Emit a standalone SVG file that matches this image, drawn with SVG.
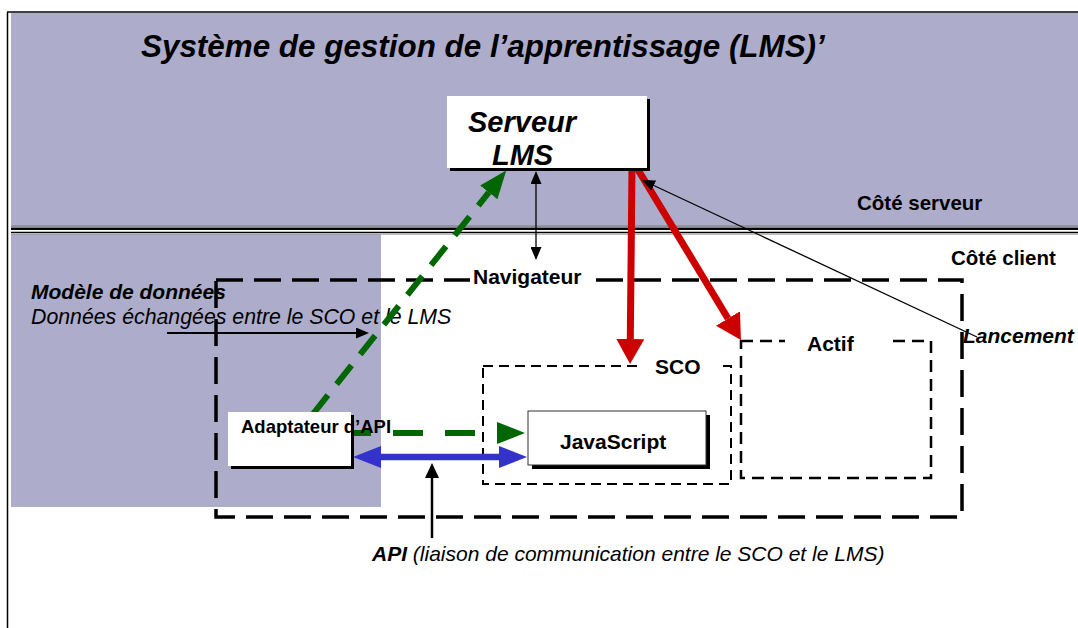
<svg xmlns="http://www.w3.org/2000/svg" width="1078" height="628" viewBox="0 0 1078 628">
  <style>
    .band { fill: #adadcb; }
    .lbl { font-family: "Liberation Sans", Arial, sans-serif; font-weight: bold; fill: #000; }
    .bi { font-family: "Liberation Sans", Arial, sans-serif; font-weight: bold; font-style: italic; fill: #000; }
    .it { font-family: "Liberation Sans", Arial, sans-serif; font-style: italic; fill: #000; }
    .box { fill: #fff; }
    .shadow { fill: #000; }
    .knock { fill: #fff; }
    .zone { fill: none; stroke: #000; }
  </style>
  <defs>
    <marker id="headGreen" markerUnits="userSpaceOnUse" markerWidth="28" markerHeight="22" refX="0" refY="11" orient="auto">
      <path d="M0,0 L28,11 L0,22 Z" fill="#006600"/>
    </marker>
    <marker id="headBlue" markerUnits="userSpaceOnUse" markerWidth="28" markerHeight="22" refX="0" refY="11" orient="auto-start-reverse">
      <path d="M0,0 L28,11 L0,22 Z" fill="#3333cc"/>
    </marker>
    <marker id="headRed" markerUnits="userSpaceOnUse" markerWidth="25" markerHeight="28" refX="0" refY="14" orient="auto">
      <path d="M0,0 L25,14 L0,28 Z" fill="#cc0000"/>
    </marker>
    <marker id="headBlack" markerUnits="userSpaceOnUse" markerWidth="13" markerHeight="11" refX="0" refY="5.5" orient="auto-start-reverse">
      <path d="M0,0 L13,5.5 L0,11 Z" fill="#000"/>
    </marker>
    <marker id="headBlackLg" markerUnits="userSpaceOnUse" markerWidth="15" markerHeight="14" refX="0" refY="7" orient="auto">
      <path d="M0,0 L15,7 L0,14 Z" fill="#000"/>
    </marker>
  </defs>

  <rect width="1078" height="628" fill="#fff"/>

  <!-- server side band and client-side data-model zone -->
  <g id="bands">
    <rect class="band" x="11" y="13" width="1067" height="214"/>
    <rect class="band" x="11" y="234" width="370" height="273"/>
    <line x1="11" y1="226" x2="1078" y2="226" stroke="#777" stroke-width="1"/>
    <line x1="11" y1="228.8" x2="1078" y2="228.8" stroke="#000" stroke-width="2.6"/>
    <line x1="11" y1="232.5" x2="1078" y2="232.5" stroke="#000" stroke-width="1.4"/>
    <line x1="11" y1="234.3" x2="1078" y2="234.3" stroke="#999" stroke-width="0.8"/>
  </g>

  <!-- page frame -->
  <g id="frame" stroke="#000" stroke-width="1.5">
    <line x1="7.5" y1="12" x2="7.5" y2="628"/>
    <line x1="7" y1="12" x2="1078" y2="12"/>
  </g>

  <text id="title" class="bi" x="141" y="57" font-size="31.4">Système de gestion de l’apprentissage (LMS)’</text>

  <g id="side-labels">
    <text class="lbl" x="857" y="210" font-size="20.5">Côté serveur</text>
    <text class="lbl" x="951" y="265" font-size="20.5">Côté client</text>
  </g>

  <!-- browser container -->
  <g id="navigateur">
    <rect class="zone" x="216" y="280" width="746" height="237" stroke-width="3.5" stroke-dasharray="27 11"/>
    <rect class="knock" x="470" y="266" width="116" height="24"/>
    <text class="lbl" x="473" y="284" font-size="21">Navigateur</text>
  </g>

  <!-- SCO container -->
  <g id="sco">
    <rect class="zone" x="483" y="366" width="248" height="118" stroke-width="2" stroke-dasharray="10 6"/>
    <rect class="knock" x="641" y="356" width="77" height="20"/>
    <text class="lbl" x="655" y="374" font-size="21">SCO</text>
  </g>

  <!-- asset container -->
  <g id="actif">
    <rect class="zone" x="741" y="341" width="190" height="137" stroke-width="2.5" stroke-dasharray="12 7"/>
    <rect class="knock" x="785" y="332" width="108" height="20"/>
    <text class="lbl" x="807" y="351" font-size="21">Actif</text>
  </g>

  <g id="modele-donnees">
    <text class="bi" x="31" y="299" font-size="21">Modèle de données</text>
    <text class="it" x="31" y="324" font-size="21.3">Données échangées entre le SCO et le LMS</text>
  </g>

  <!-- connectors -->
  <g id="connectors" fill="none">
    <line x1="313" y1="414" x2="488.8" y2="192.4" stroke="#006600" stroke-width="6" stroke-dasharray="24 14" marker-end="url(#headGreen)"/>
    <line x1="352" y1="433" x2="497" y2="433" stroke="#006600" stroke-width="6" stroke-dasharray="30 22" stroke-dashoffset="11" marker-end="url(#headGreen)"/>
    <line x1="381" y1="457" x2="499" y2="457" stroke="#3333cc" stroke-width="6.5" marker-start="url(#headBlue)" marker-end="url(#headBlue)"/>
    <line x1="632" y1="168" x2="630.3" y2="339" stroke="#cc0000" stroke-width="7" marker-end="url(#headRed)"/>
    <line x1="637" y1="168" x2="728" y2="318.5" stroke="#cc0000" stroke-width="7" marker-end="url(#headRed)"/>
    <line x1="536" y1="184" x2="536" y2="247" stroke="#000" stroke-width="1.3" marker-start="url(#headBlack)" marker-end="url(#headBlack)"/>
    <line x1="977" y1="337" x2="653.8" y2="185.5" stroke="#000" stroke-width="1.3" marker-end="url(#headBlack)"/>
    <line x1="167" y1="333" x2="356" y2="333" stroke="#000" stroke-width="1.8" marker-end="url(#headBlack)"/>
    <line x1="432" y1="538" x2="432" y2="478" stroke="#000" stroke-width="2.5" marker-end="url(#headBlackLg)"/>
  </g>

  <!-- LMS server -->
  <g id="serveur-lms">
    <rect class="shadow" x="450" y="99" width="200" height="72"/>
    <rect class="box" x="447" y="96" width="200" height="72"/>
    <text class="bi" x="468" y="132" font-size="29">Serveur</text>
    <text class="bi" x="492" y="165" font-size="29">LMS</text>
  </g>

  <!-- API adapter -->
  <g id="adaptateur-api">
    <rect class="shadow" x="231" y="415" width="123" height="54"/>
    <rect class="box" x="228" y="412" width="123" height="54"/>
    <text class="lbl" x="241" y="433" font-size="18.5">Adaptateur d’API</text>
  </g>

  <!-- JavaScript inside SCO -->
  <g id="javascript">
    <rect class="shadow" x="532" y="415" width="178" height="54"/>
    <rect class="box" x="528" y="411" width="178" height="54" stroke="#333" stroke-width="1"/>
    <text class="lbl" x="560" y="449" font-size="21">JavaScript</text>
  </g>

  <text id="lancement" class="bi" x="963" y="343" font-size="21">Lancement</text>

  <text id="api-label" class="it" x="372" y="561" font-size="21"><tspan font-weight="bold">API</tspan> (liaison de communication entre le SCO et le LMS)</text>
</svg>
